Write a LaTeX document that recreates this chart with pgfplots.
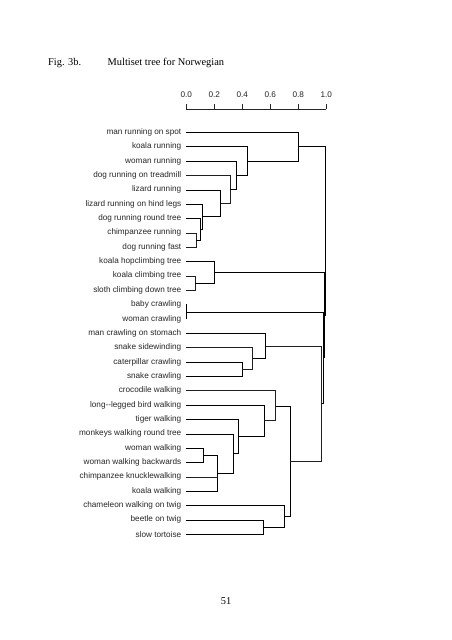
\documentclass[border=0pt]{standalone}
\usepackage{fontspec}
\setmainfont{Liberation Serif}
\newfontfamily\chartfont{Liberation Sans}
\usepackage{pgfplots}
\pgfplotsset{compat=1.18}
\begin{document}
\begin{tikzpicture}[x=1pt,y=1pt]
\fill[white] (-186.3,-97.2) rectangle (265.7,542.8);
\begin{axis}[
  scale only axis, width=140pt, height=433.8pt,
  xmin=0, xmax=1, ymin=-28.6, ymax=1.623,
  clip=false,
  axis x line*=top, axis y line*=left,
  y axis line style={opacity=0},
  x axis line style={-, draw=black!85, line width=0.8pt, opacity=1},
  xtick={0,0.2,0.4,0.6,0.8,1.0},
  tick align=outside,
  major tick length=4.5pt,
  xtick style={draw=black!85, line width=0.8pt, opacity=1},
  ytick style={opacity=0},
  xticklabel style={font=\chartfont\fontsize{8.2}{10}\selectfont, black!85},
  yticklabel style={font=\chartfont\fontsize{8.2}{10}\selectfont, black!85},
  xticklabel shift=3.5pt,
  yticklabel shift=-3pt,
  xticklabel={\pgfmathprintnumber[fixed,fixed zerofill,precision=1,assume math mode=true]{\tick}},
  ytick={-28,-27,...,0},
  yticklabels={slow tortoise, beetle on twig, chameleon walking on twig, koala walking, chimpanzee knucklewalking, woman walking backwards, woman walking, monkeys walking round tree, tiger walking, long--legged bird walking, crocodile walking, snake crawling, caterpillar crawling, snake sidewinding, man crawling on stomach, woman crawling, baby crawling, sloth climbing down tree, koala climbing tree, koala hopclimbing tree, dog running fast, chimpanzee running, dog running round tree, lizard running on hind legs, lizard running\hspace{3pt}, dog running on treadmill, woman running, koala running, man running on spot},
  cycle list={{black!88, solid, line width=0.9pt, mark=none}},
]
% running cluster
\addplot coordinates {(0,-7) (0.068,-7) (0.068,-8) (0,-8)};
\addplot coordinates {(0,-6) (0.098,-6) (0.098,-7.5) (0.068,-7.5)};
\addplot coordinates {(0,-5) (0.115,-5) (0.115,-6.75) (0.098,-6.75)};
\addplot coordinates {(0,-4) (0.245,-4) (0.245,-5.875) (0.115,-5.875)};
\addplot coordinates {(0,-3) (0.314,-3) (0.314,-4.9375) (0.245,-4.9375)};
\addplot coordinates {(0,-2) (0.357,-2) (0.357,-3.96875) (0.314,-3.96875)};
\addplot coordinates {(0,-1) (0.436,-1) (0.436,-2.984) (0.357,-2.984)};
\addplot coordinates {(0,0) (0.80,0) (0.80,-1.992) (0.436,-1.992)};
% climbing
\addplot coordinates {(0,-10) (0.062,-10) (0.062,-11) (0,-11)};
\addplot coordinates {(0,-9) (0.20,-9) (0.20,-10.5) (0.062,-10.5)};
% baby / woman crawling
\addplot coordinates {(0,-12) (0.004,-12) (0.004,-13) (0,-13)};
% crawling
\addplot coordinates {(0,-16) (0.40,-16) (0.40,-17) (0,-17)};
\addplot coordinates {(0,-15) (0.474,-15) (0.474,-16.5) (0.40,-16.5)};
\addplot coordinates {(0,-14) (0.567,-14) (0.567,-15.75) (0.474,-15.75)};
% walking
\addplot coordinates {(0,-22) (0.121,-22) (0.121,-23) (0,-23)};
\addplot coordinates {(0.121,-22.5) (0.224,-22.5) (0.224,-25) (0,-25)};
\addplot coordinates {(0,-24) (0.224,-24)};
\addplot coordinates {(0,-21) (0.336,-21) (0.336,-23.75) (0.224,-23.75)};
\addplot coordinates {(0,-20) (0.371,-20) (0.371,-22.375) (0.336,-22.375)};
\addplot coordinates {(0,-19) (0.557,-19) (0.557,-21.19) (0.371,-21.19)};
\addplot coordinates {(0,-18) (0.638,-18) (0.638,-20.09) (0.557,-20.09)};
\addplot coordinates {(0,-27) (0.546,-27) (0.546,-28) (0,-28)};
\addplot coordinates {(0,-26) (0.70,-26) (0.70,-27.5) (0.546,-27.5)};
\addplot coordinates {(0.638,-19.05) (0.74,-19.05) (0.74,-26.75) (0.70,-26.75)};
% top-level merges
\addplot coordinates {(0.567,-14.875) (0.967,-14.875) (0.967,-22.9) (0.74,-22.9)};
\addplot coordinates {(0.004,-12.5) (0.977,-12.5) (0.977,-18.89) (0.967,-18.89)};
\addplot coordinates {(0.20,-9.75) (0.984,-9.75) (0.984,-15.69) (0.977,-15.69)};
\addplot coordinates {(0.80,-0.996) (0.993,-0.996) (0.993,-12.72) (0.984,-12.72)};
\end{axis}
\node[anchor=base west,inner sep=0pt,font=\fontsize{10.4}{12}\selectfont] at (-138.3,477) {Fig. 3b.};
\node[anchor=base west,inner sep=0pt,font=\fontsize{10.4}{12}\selectfont] at (-78.8,477) {Multiset tree for Norwegian};
\node[anchor=base,inner sep=0pt,font=\fontsize{10.4}{12}\selectfont] at (39.7,-61.2) {51};
\pgfresetboundingbox
\useasboundingbox (-186.3,-97.2) rectangle (265.7,542.8);
\end{tikzpicture}
\end{document}
